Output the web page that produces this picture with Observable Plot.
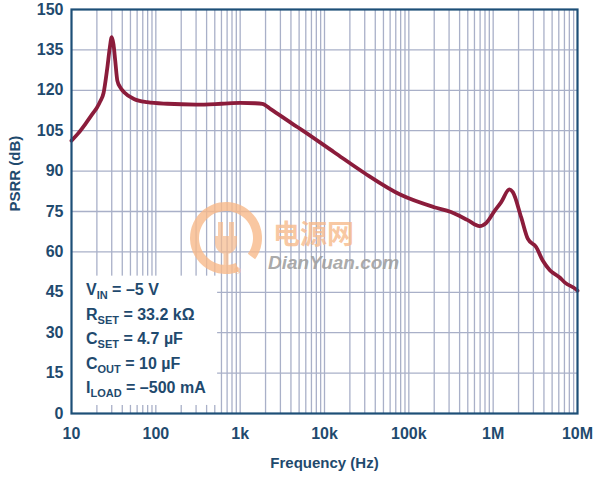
<!DOCTYPE html>
<html>
<head>
<meta charset="utf-8">
<script src="https://cdn.jsdelivr.net/npm/d3@7"></script>
<script src="https://cdn.jsdelivr.net/npm/@observablehq/plot@0.6"></script>
<style>
  html, body { margin: 0; padding: 0; background: #ffffff; }
  #chart { width: 600px; height: 480px; }
</style>
</head>
<body>
<div id="chart"></div>
<script>
// ---- data ----
const freq = [10, 12, 15, 18, 20, 22, 24, 26.5, 28.5, 30, 31.5, 33, 35, 38, 42, 55, 79, 137, 300, 600, 1000, 1500, 1830,
  2300, 4430, 5250, 13000, 30000, 80000, 200000, 316000, 500000, 690000, 830000, 1040000, 1240000, 1560000, 1710000,
  2150000, 2580000, 3230000, 3870000, 4700000, 6100000, 7100000, 9700000, 10000000];
const psrr = [101.3, 104, 108, 111.5, 113.5, 116, 119, 128, 136, 139.7, 137, 131, 123.5, 121, 119.3, 116.8, 115.6, 115.0, 114.7, 115.0, 115.3, 115.2, 115.0,
  113.0, 107.0, 105.5, 97.0, 89.2, 81.2, 76.6, 74.8, 71.8, 69.6, 70.8, 75.2, 78.4, 83.2, 82.2,
  72.8, 64.8, 61.8, 56.8, 53.2, 50.6, 48.6, 46.0, 45.6];

const xTicks = [10, 100, 1e3, 1e4, 1e5, 1e6, 1e7];
const xTickLabels = ["10", "100", "1k", "10k", "100k", "1M", "10M"];
const yTicks = [0, 15, 30, 45, 60, 75, 90, 105, 120, 135, 150];
const xLabel = "Frequency (Hz)";
const yLabel = "PSRR (dB)";

const legendLines = [
  ["V", "IN", " = \u20135 V"],
  ["R", "SET", " = 33.2 k\u03A9"],
  ["C", "SET", " = 4.7 \u00B5F"],
  ["C", "OUT", " = 10 \u00B5F"],
  ["I", "LOAD", " = \u2013500 mA"]
];
const legendBox = {x1: 10, x2: 540, y1: 0, y2: 51};
const watermarkCn = "电源网";
const watermarkEn = "DianYuan.com";

// ---- derived tables ----
const data = freq.map((f, i) => ({f, v: psrr[i]}));
const gridX = [];
for (let d = 10; d < 1e7; d *= 10) for (let m = 1; m <= 9; m++) if (!(d === 10 && m === 1)) gridX.push(d * m);
const boxTicks = gridX.filter(f => f < legendBox.x2);

const textColor = "#1f4a6e";
const frameColor = "#1d4f77";
const gridColor = "#a9b0c8";
const lineColor = "#8b1c3b";
const wmOrange = "#f7b98a";
const font = "'Liberation Sans', Arial, Helvetica, sans-serif";

const chart = Plot.plot({
  width: 600,
  height: 480,
  marginLeft: 71,
  marginRight: 23,
  marginTop: 9,
  marginBottom: 67,
  style: {fontFamily: font, fontWeight: "bold", fontSize: "16px", color: textColor, background: "#ffffff", overflow: "visible"},
  x: {type: "log", domain: [10, 1e7]},
  y: {domain: [0, 150]},
  marks: [
    Plot.ruleX(gridX, {stroke: gridColor, strokeWidth: 1.3}),
    Plot.ruleY(yTicks.slice(1, -1), {stroke: gridColor, strokeWidth: 1.3}),
    Plot.rect([legendBox], {x1: "x1", x2: "x2", y1: "y1", y2: "y2", fill: "#ffffff"}),
    Plot.ruleX(boxTicks, {y1: 0, y2: 3, stroke: gridColor, strokeWidth: 1.3}),
    Plot.line(data, {x: "f", y: "v", stroke: lineColor, strokeWidth: 3.8, curve: "monotone-x", strokeLinejoin: "round", strokeLinecap: "round"}),
    Plot.frame({stroke: frameColor, strokeWidth: 2.2}),
    Plot.axisX(xTicks, {tickFormat: d => xTickLabels[xTicks.indexOf(d)], tickSize: 0, tickPadding: 14, fontSize: 16, label: null}),
    Plot.axisY(yTicks, {tickSize: 0, tickPadding: 8, fontSize: 16, label: null}),
    Plot.text([xLabel], {frameAnchor: "bottom", dy: 54, fontSize: 15, fontWeight: "bold", fill: textColor}),
    Plot.text([yLabel], {frameAnchor: "left", dx: -56, rotate: -90, fontSize: 15, fontWeight: "bold", fill: textColor})
  ]
});

document.getElementById("chart").appendChild(chart);

// ---- legend with subscripts and watermark, positioned from the scales ----
const sx = chart.scale("x"), sy = chart.scale("y");
const svg = d3.select(chart);
const left = sx.apply(10);
const bottom = sy.apply(0);

// watermark (above the grid, beneath the legend text)
const wm = svg.append("g").attr("pointer-events", "none").attr("text-anchor", "start");
const cx = left + 155, cy = bottom - 175;
wm.append("path")
  .attr("transform", `translate(${cx},${cy})`)
  .attr("d", d3.arc()({innerRadius: 27, outerRadius: 36, startAngle: Math.PI * 0.88, endAngle: Math.PI * 2.7}))
  .attr("fill", wmOrange).attr("fill-opacity", 0.8);
wm.append("path")
  .attr("transform", `translate(${cx},${cy})`)
  .attr("d", "M-11,-2 h22 v7 a11,11 0 0 1 -22,0 z M-8,-16 h5 v14 h-5 z M3,-16 h5 v14 h-5 z M-2.5,15 h5 v12 h-5 z")
  .attr("fill", wmOrange).attr("fill-opacity", 0.7);
wm.append("text")
  .attr("x", cx + 8).attr("y", cy + 36)
  .attr("font-size", 9).attr("fill", wmOrange).text("\u00AE");
wm.append("text")
  .attr("x", cx + 47).attr("y", cy + 6)
  .attr("font-family", "'Noto Sans CJK SC', sans-serif").attr("font-weight", "bold")
  .attr("font-size", 27).attr("fill", wmOrange).attr("fill-opacity", 0.8)
  .text(watermarkCn);
wm.append("text")
  .attr("x", cx + 42).attr("y", cy + 31)
  .attr("font-family", font).attr("font-weight", "bold").attr("font-style", "italic")
  .attr("font-size", 19).attr("fill", "#9c9c9c").attr("fill-opacity", 0.85)
  .text(watermarkEn);

const lg = svg.append("g")
  .attr("font-family", font).attr("font-weight", "bold").attr("fill", textColor)
  .attr("text-anchor", "start");
legendLines.forEach((ln, i) => {
  const t = lg.append("text")
    .attr("x", left + 15)
    .attr("y", bottom - 118 + i * 24.5)
    .attr("font-size", 16);
  t.append("tspan").text(ln[0]);
  t.append("tspan").attr("font-size", 11).attr("dy", 4).text(ln[1]);
  t.append("tspan").attr("dy", -4).text(ln[2]);
});
</script>
</body>
</html>
